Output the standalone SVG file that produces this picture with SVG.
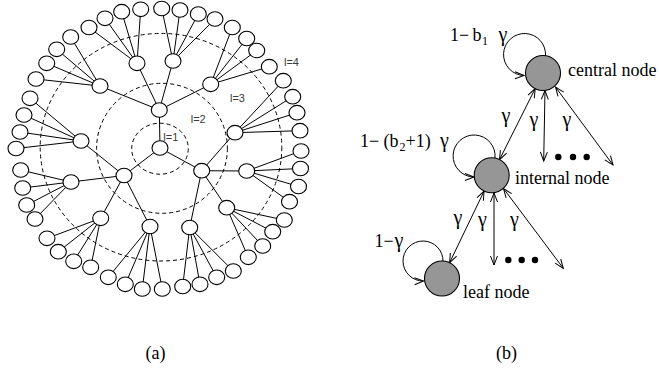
<svg xmlns="http://www.w3.org/2000/svg" width="659" height="370" viewBox="0 0 659 370">
<style>
.tn{fill:#fff;stroke:#000;stroke-width:1.1}
.te line{stroke:#000;stroke-width:1}
.ring{fill:none;stroke:#000;stroke-width:1;stroke-dasharray:4,3}
.lv{font-family:"Liberation Sans",Arial,sans-serif;font-size:11px;fill:#3a3a3a}
.big{fill:#969696;stroke:#000;stroke-width:1.1}
.ser{font-family:"Liberation Serif","Times New Roman",serif;font-size:18px;fill:#000}
.g{font-size:20px}
.sub{font-size:12px}
.arr{fill:none;stroke:#000;stroke-width:1;marker-end:url(#ah)}
.arr2{fill:none;stroke:#000;stroke-width:1;marker-start:url(#ah);marker-end:url(#ah)}
.dot{fill:#000}
</style>
<defs>
<marker id="ah" markerUnits="userSpaceOnUse" markerWidth="12" markerHeight="10" refX="9" refY="3.5" orient="auto-start-reverse" viewBox="-1 -1 12 10">
<path d="M0,0 L9,3.5 L0,7" fill="none" stroke="#000" stroke-width="1"/>
</marker>
</defs>
<rect width="659" height="370" fill="#fff"/>

<g id="rings">
<ellipse class="ring" cx="160" cy="148.7" rx="28.3" ry="25.5"/>
<ellipse class="ring" cx="162" cy="148.3" rx="65.4" ry="65"/>
<ellipse class="ring" cx="161" cy="147.2" rx="120.8" ry="113.8"/>
</g>

<g id="tree-edges" class="te">
<line x1="160" y1="148" x2="159.3" y2="110"/>
<line x1="160" y1="148" x2="124" y2="175.5"/>
<line x1="160" y1="148" x2="201.7" y2="170.7"/>
<line x1="159.3" y1="110" x2="100" y2="86"/>
<line x1="159.3" y1="110" x2="137" y2="63.3"/>
<line x1="159.3" y1="110" x2="173" y2="61"/>
<line x1="159.3" y1="110" x2="210.7" y2="84.3"/>
<line x1="201.7" y1="170.7" x2="235" y2="132.7"/>
<line x1="201.7" y1="170.7" x2="246.7" y2="171"/>
<line x1="201.7" y1="170.7" x2="226.7" y2="207.7"/>
<line x1="201.7" y1="170.7" x2="189.7" y2="227.5"/>
<line x1="124" y1="175.5" x2="150" y2="226.5"/>
<line x1="124" y1="175.5" x2="100.7" y2="218.3"/>
<line x1="124" y1="175.5" x2="71" y2="182"/>
<line x1="124" y1="175.5" x2="81" y2="141"/>
<line x1="100" y1="86" x2="36" y2="79"/>
<line x1="100" y1="86" x2="46.7" y2="63.3"/>
<line x1="100" y1="86" x2="56.7" y2="49.3"/>
<line x1="100" y1="86" x2="70.7" y2="37"/>
<line x1="137" y1="63.3" x2="89" y2="27.5"/>
<line x1="137" y1="63.3" x2="105" y2="18.3"/>
<line x1="137" y1="63.3" x2="121.7" y2="11.7"/>
<line x1="137" y1="63.3" x2="140.7" y2="9.3"/>
<line x1="173" y1="61" x2="161.7" y2="8.5"/>
<line x1="173" y1="61" x2="180" y2="10"/>
<line x1="173" y1="61" x2="198.3" y2="14"/>
<line x1="173" y1="61" x2="215" y2="19"/>
<line x1="210.7" y1="84.3" x2="232.3" y2="27.5"/>
<line x1="210.7" y1="84.3" x2="246.7" y2="38.5"/>
<line x1="210.7" y1="84.3" x2="256.7" y2="50.5"/>
<line x1="210.7" y1="84.3" x2="269.3" y2="66.7"/>
<line x1="235" y1="132.7" x2="283.3" y2="80.7"/>
<line x1="235" y1="132.7" x2="292.7" y2="96.7"/>
<line x1="235" y1="132.7" x2="297" y2="112.7"/>
<line x1="235" y1="132.7" x2="300" y2="130.7"/>
<line x1="246.7" y1="171" x2="301" y2="151"/>
<line x1="246.7" y1="171" x2="300.5" y2="168.5"/>
<line x1="246.7" y1="171" x2="298.5" y2="186.5"/>
<line x1="246.7" y1="171" x2="289.5" y2="201.7"/>
<line x1="226.7" y1="207.7" x2="284.3" y2="220"/>
<line x1="226.7" y1="207.7" x2="272.7" y2="231.7"/>
<line x1="226.7" y1="207.7" x2="262.7" y2="246"/>
<line x1="226.7" y1="207.7" x2="248.3" y2="257.3"/>
<line x1="189.7" y1="227.5" x2="233.3" y2="271"/>
<line x1="189.7" y1="227.5" x2="216.7" y2="277.3"/>
<line x1="189.7" y1="227.5" x2="200" y2="284.3"/>
<line x1="189.7" y1="227.5" x2="182.7" y2="286.5"/>
<line x1="150" y1="226.5" x2="162.3" y2="289"/>
<line x1="150" y1="226.5" x2="142.3" y2="289"/>
<line x1="150" y1="226.5" x2="125.3" y2="284.3"/>
<line x1="150" y1="226.5" x2="108.3" y2="277.3"/>
<line x1="100.7" y1="218.3" x2="90.7" y2="267.3"/>
<line x1="100.7" y1="218.3" x2="73.7" y2="261.3"/>
<line x1="100.7" y1="218.3" x2="58.3" y2="251.7"/>
<line x1="100.7" y1="218.3" x2="47" y2="238.3"/>
<line x1="71" y1="182" x2="35" y2="219"/>
<line x1="71" y1="182" x2="26.7" y2="205"/>
<line x1="71" y1="182" x2="22.7" y2="188"/>
<line x1="71" y1="182" x2="20.7" y2="170"/>
<line x1="81" y1="141" x2="16" y2="148.5"/>
<line x1="81" y1="141" x2="20" y2="132"/>
<line x1="81" y1="141" x2="24" y2="115"/>
<line x1="81" y1="141" x2="30" y2="98.3"/>
</g>

<g id="tn-root"><ellipse class="tn" cx="160" cy="148" rx="8" ry="7.3"/></g>
<g id="tn-t"><ellipse class="tn" cx="159.3" cy="110" rx="8" ry="7.3"/></g>
<g id="tn-lb"><ellipse class="tn" cx="124" cy="175.5" rx="8" ry="7.3"/></g>
<g id="tn-rb"><ellipse class="tn" cx="201.7" cy="170.7" rx="8" ry="7.3"/></g>
<g id="tn-a"><ellipse class="tn" cx="100" cy="86" rx="8" ry="7.3"/></g>
<g id="tn-b"><ellipse class="tn" cx="137" cy="63.3" rx="8" ry="7.3"/></g>
<g id="tn-c"><ellipse class="tn" cx="173" cy="61" rx="8" ry="7.3"/></g>
<g id="tn-d"><ellipse class="tn" cx="210.7" cy="84.3" rx="8" ry="7.3"/></g>
<g id="tn-e"><ellipse class="tn" cx="235" cy="132.7" rx="8" ry="7.3"/></g>
<g id="tn-f"><ellipse class="tn" cx="246.7" cy="171" rx="8" ry="7.3"/></g>
<g id="tn-g"><ellipse class="tn" cx="226.7" cy="207.7" rx="8" ry="7.3"/></g>
<g id="tn-h"><ellipse class="tn" cx="189.7" cy="227.5" rx="8" ry="7.3"/></g>
<g id="tn-i"><ellipse class="tn" cx="150" cy="226.5" rx="8" ry="7.3"/></g>
<g id="tn-j"><ellipse class="tn" cx="100.7" cy="218.3" rx="8" ry="7.3"/></g>
<g id="tn-k"><ellipse class="tn" cx="71" cy="182" rx="8" ry="7.3"/></g>
<g id="tn-l"><ellipse class="tn" cx="81" cy="141" rx="8" ry="7.3"/></g>
<g id="tn-a1"><ellipse class="tn" cx="36" cy="79" rx="8" ry="7.3"/></g>
<g id="tn-a2"><ellipse class="tn" cx="46.7" cy="63.3" rx="8" ry="7.3"/></g>
<g id="tn-a3"><ellipse class="tn" cx="56.7" cy="49.3" rx="8" ry="7.3"/></g>
<g id="tn-a4"><ellipse class="tn" cx="70.7" cy="37" rx="8" ry="7.3"/></g>
<g id="tn-b1"><ellipse class="tn" cx="89" cy="27.5" rx="8" ry="7.3"/></g>
<g id="tn-b2"><ellipse class="tn" cx="105" cy="18.3" rx="8" ry="7.3"/></g>
<g id="tn-b3"><ellipse class="tn" cx="121.7" cy="11.7" rx="8" ry="7.3"/></g>
<g id="tn-b4"><ellipse class="tn" cx="140.7" cy="9.3" rx="8" ry="7.3"/></g>
<g id="tn-c1"><ellipse class="tn" cx="161.7" cy="8.5" rx="8" ry="7.3"/></g>
<g id="tn-c2"><ellipse class="tn" cx="180" cy="10" rx="8" ry="7.3"/></g>
<g id="tn-c3"><ellipse class="tn" cx="198.3" cy="14" rx="8" ry="7.3"/></g>
<g id="tn-c4"><ellipse class="tn" cx="215" cy="19" rx="8" ry="7.3"/></g>
<g id="tn-d1"><ellipse class="tn" cx="232.3" cy="27.5" rx="8" ry="7.3"/></g>
<g id="tn-d2"><ellipse class="tn" cx="246.7" cy="38.5" rx="8" ry="7.3"/></g>
<g id="tn-d3"><ellipse class="tn" cx="256.7" cy="50.5" rx="8" ry="7.3"/></g>
<g id="tn-d4"><ellipse class="tn" cx="269.3" cy="66.7" rx="8" ry="7.3"/></g>
<g id="tn-e1"><ellipse class="tn" cx="283.3" cy="80.7" rx="8" ry="7.3"/></g>
<g id="tn-e2"><ellipse class="tn" cx="292.7" cy="96.7" rx="8" ry="7.3"/></g>
<g id="tn-e3"><ellipse class="tn" cx="297" cy="112.7" rx="8" ry="7.3"/></g>
<g id="tn-e4"><ellipse class="tn" cx="300" cy="130.7" rx="8" ry="7.3"/></g>
<g id="tn-f1"><ellipse class="tn" cx="301" cy="151" rx="8" ry="7.3"/></g>
<g id="tn-f2"><ellipse class="tn" cx="300.5" cy="168.5" rx="8" ry="7.3"/></g>
<g id="tn-f3"><ellipse class="tn" cx="298.5" cy="186.5" rx="8" ry="7.3"/></g>
<g id="tn-f4"><ellipse class="tn" cx="289.5" cy="201.7" rx="8" ry="7.3"/></g>
<g id="tn-g1"><ellipse class="tn" cx="284.3" cy="220" rx="8" ry="7.3"/></g>
<g id="tn-g2"><ellipse class="tn" cx="272.7" cy="231.7" rx="8" ry="7.3"/></g>
<g id="tn-g3"><ellipse class="tn" cx="262.7" cy="246" rx="8" ry="7.3"/></g>
<g id="tn-g4"><ellipse class="tn" cx="248.3" cy="257.3" rx="8" ry="7.3"/></g>
<g id="tn-h1"><ellipse class="tn" cx="233.3" cy="271" rx="8" ry="7.3"/></g>
<g id="tn-h2"><ellipse class="tn" cx="216.7" cy="277.3" rx="8" ry="7.3"/></g>
<g id="tn-h3"><ellipse class="tn" cx="200" cy="284.3" rx="8" ry="7.3"/></g>
<g id="tn-h4"><ellipse class="tn" cx="182.7" cy="286.5" rx="8" ry="7.3"/></g>
<g id="tn-i1"><ellipse class="tn" cx="162.3" cy="289" rx="8" ry="7.3"/></g>
<g id="tn-i2"><ellipse class="tn" cx="142.3" cy="289" rx="8" ry="7.3"/></g>
<g id="tn-i3"><ellipse class="tn" cx="125.3" cy="284.3" rx="8" ry="7.3"/></g>
<g id="tn-i4"><ellipse class="tn" cx="108.3" cy="277.3" rx="8" ry="7.3"/></g>
<g id="tn-j1"><ellipse class="tn" cx="90.7" cy="267.3" rx="8" ry="7.3"/></g>
<g id="tn-j2"><ellipse class="tn" cx="73.7" cy="261.3" rx="8" ry="7.3"/></g>
<g id="tn-j3"><ellipse class="tn" cx="58.3" cy="251.7" rx="8" ry="7.3"/></g>
<g id="tn-j4"><ellipse class="tn" cx="47" cy="238.3" rx="8" ry="7.3"/></g>
<g id="tn-k1"><ellipse class="tn" cx="35" cy="219" rx="8" ry="7.3"/></g>
<g id="tn-k2"><ellipse class="tn" cx="26.7" cy="205" rx="8" ry="7.3"/></g>
<g id="tn-k3"><ellipse class="tn" cx="22.7" cy="188" rx="8" ry="7.3"/></g>
<g id="tn-k4"><ellipse class="tn" cx="20.7" cy="170" rx="8" ry="7.3"/></g>
<g id="tn-l1"><ellipse class="tn" cx="16" cy="148.5" rx="8" ry="7.3"/></g>
<g id="tn-l2"><ellipse class="tn" cx="20" cy="132" rx="8" ry="7.3"/></g>
<g id="tn-l3"><ellipse class="tn" cx="24" cy="115" rx="8" ry="7.3"/></g>
<g id="tn-l4"><ellipse class="tn" cx="30" cy="98.3" rx="8" ry="7.3"/></g>

<g id="level-labels">
<text class="lv" x="163.3" y="141">l=1</text>
<text class="lv" x="190.7" y="122.5">l=2</text>
<text class="lv" x="230" y="101.5">l=3</text>
<text class="lv" x="284" y="65.5">l=4</text>
</g>

<g id="connectors">
<path class="arr" d="M545.5,56 A21,21 0 1 0 524,75.5"/>
<path class="arr" d="M495,158 A21,21 0 1 0 474,177"/>
<path class="arr" d="M443,261.5 A20,20 0 1 0 423.5,281"/>
<path class="arr2" d="M535.2,88.6 L499.5,159.7"/>
<path class="arr2" d="M545,90.5 L543.7,161"/>
<path class="arr2" d="M555.5,87 L613,165"/>
<path class="arr2" d="M484.1,191.1 L449.6,262.7"/>
<path class="arr2" d="M494,193 L494,265"/>
<path class="arr2" d="M503.5,188.5 L563.3,268.3"/>
</g>

<g id="central-node"><circle class="big" cx="543" cy="73" r="17.5"/><text class="ser" x="568" y="76">central node</text></g>
<g id="internal-node"><circle class="big" cx="491.7" cy="175.3" r="17.5"/><text class="ser" x="515" y="183.5">internal node</text></g>
<g id="leaf-node"><circle class="big" cx="442" cy="278.5" r="17.5"/><text class="ser" x="463" y="297.5">leaf node</text></g>

<g id="edge-labels">
<text class="ser" y="41"><tspan x="450">1−</tspan><tspan x="472.5">b</tspan><tspan class="sub" x="482" y="45">1</tspan><tspan class="g" x="498.5" y="41">γ</tspan></text>
<text class="ser" y="147"><tspan x="360">1−</tspan><tspan x="383.5">(b</tspan><tspan class="sub" x="399.5" y="151">2</tspan><tspan x="405.5" y="147">+1)</tspan><tspan class="g" x="440">γ</tspan></text>
<text class="ser" y="247"><tspan x="374.5">1−</tspan><tspan class="g" x="394.5">γ</tspan></text>
<text class="ser g" x="501.5" y="122">γ</text>
<text class="ser g" x="529.5" y="126">γ</text>
<text class="ser g" x="562.5" y="126">γ</text>
<text class="ser g" x="453.5" y="224">γ</text>
<text class="ser g" x="478" y="226">γ</text>
<text class="ser g" x="510" y="226">γ</text>
</g>

<g id="dots">
<circle class="dot" cx="558.3" cy="157" r="3.2"/>
<circle class="dot" cx="573" cy="157" r="3.2"/>
<circle class="dot" cx="586.7" cy="157" r="3.2"/>
<circle class="dot" cx="508.3" cy="260" r="3.2"/>
<circle class="dot" cx="521.7" cy="260" r="3.2"/>
<circle class="dot" cx="535" cy="260" r="3.2"/>
</g>

<g id="captions">
<text class="ser" x="155.5" y="359" text-anchor="middle" font-size="19">(a)</text>
<text class="ser" x="506.5" y="359" text-anchor="middle" font-size="19">(b)</text>
</g>
</svg>
